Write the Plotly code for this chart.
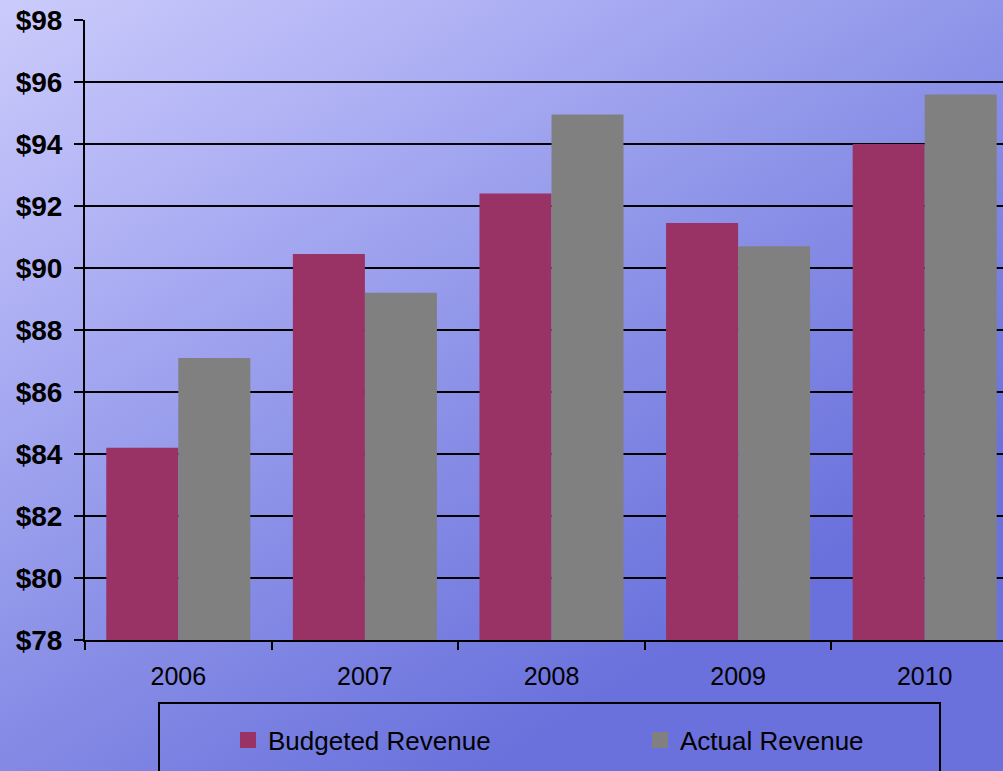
import base64
import plotly.graph_objects as go

# Revenue by year, in dollars
years = ["2006", "2007", "2008", "2009", "2010"]
budgeted_revenue = [84.2, 90.45, 92.4, 91.45, 94.0]
actual_revenue = [87.1, 89.2, 94.95, 90.7, 95.6]

series_names = ["Budgeted Revenue", "Actual Revenue"]
series_colors = ["#993366", "#808080"]

y_tick_values = list(range(78, 100, 2))
y_tick_labels = [f"${v}" for v in y_tick_values]

W, H = 1003, 771
ML, MR, MT, MB = 85, 0, 20, 131
PW, PH = W - ML - MR, H - MT - MB

FONT = "Liberation Sans, Arial, sans-serif"

# Lavender-to-blue corner gradient used as the page background
svg = f"""<svg xmlns='http://www.w3.org/2000/svg' width='{W}' height='{H}'>
<defs><linearGradient id='g' gradientUnits='userSpaceOnUse' x1='0' y1='0' x2='480' y2='771'>
<stop offset='0' stop-color='#cbcbfb'/>
<stop offset='0.3' stop-color='#aeb0f4'/>
<stop offset='0.6' stop-color='#8e94e8'/>
<stop offset='1' stop-color='#6a71dc'/>
</linearGradient></defs>
<rect width='{W}' height='{H}' fill='url(#g)'/>
</svg>"""
bg_uri = "data:image/svg+xml;base64," + base64.b64encode(svg.encode()).decode()

fig = go.Figure()
for name, vals, color in zip(series_names, [budgeted_revenue, actual_revenue], series_colors):
    fig.add_trace(go.Bar(name=name, x=years, y=vals, showlegend=False,
                         marker=dict(color=color, line=dict(width=0))))

# Square swatches for the legend, one legend per series
for i, (name, color) in enumerate(zip(series_names, series_colors)):
    fig.add_trace(go.Scatter(name=name, x=[None], y=[None], mode="markers",
                             marker=dict(symbol="square", size=17, color=color),
                             legend="legend" if i == 0 else "legend2"))


def legend_cfg(px_left):
    return dict(
        orientation="h", xref="paper", yref="paper",
        x=(px_left - ML) / PW, xanchor="left",
        y=(MT + PH - 740) / PH, yanchor="middle",
        bgcolor="rgba(0,0,0,0)", borderwidth=0,
        font=dict(family=FONT, size=26, color="black"),
        itemsizing="trace",
    )


fig.update_layout(
    width=W, height=H,
    margin=dict(l=ML, r=MR, t=MT, b=MB, pad=0, autoexpand=False),
    paper_bgcolor="#8e94e8",
    plot_bgcolor="rgba(0,0,0,0)",
    barmode="group", bargap=0.228, bargroupgap=0,
    font=dict(family=FONT, color="black"),
    images=[dict(source=bg_uri, xref="paper", yref="paper",
                 x=-ML / PW, y=1 + MT / PH, sizex=W / PW, sizey=H / PH,
                 xanchor="left", yanchor="top", sizing="stretch", layer="below")],
    xaxis=dict(
        type="category", range=[-0.5, -0.5 + 5 * PW / (1018 - ML)],
        showline=True, linecolor="black", linewidth=2,
        ticks="outside", ticklen=8, tickwidth=2, tickcolor="black",
        tickson="boundaries", showgrid=False,
        tickfont=dict(family=FONT, size=25, color="black"),
        ticklabelstandoff=13,
    ),
    yaxis=dict(
        range=[78, 98], tickvals=y_tick_values, ticktext=y_tick_labels,
        showline=True, linecolor="black", linewidth=2,
        ticks="outside", ticklen=9, tickwidth=2, tickcolor="black",
        showgrid=True, gridcolor="black", gridwidth=2, zeroline=False,
        tickfont=dict(family=FONT, size=28, color="black", weight="bold"),
        ticklabelstandoff=6,
    ),
    showlegend=True,
    legend=legend_cfg(228),
    legend2=legend_cfg(640),
    shapes=[dict(type="rect", xref="paper", yref="paper",
                 x0=(159 - ML) / PW, x1=(940 - ML) / PW,
                 y0=(MT + PH - 790) / PH, y1=(MT + PH - 703) / PH,
                 line=dict(color="black", width=2), fillcolor="rgba(0,0,0,0)")],
)

fig.write_html("out.html")
